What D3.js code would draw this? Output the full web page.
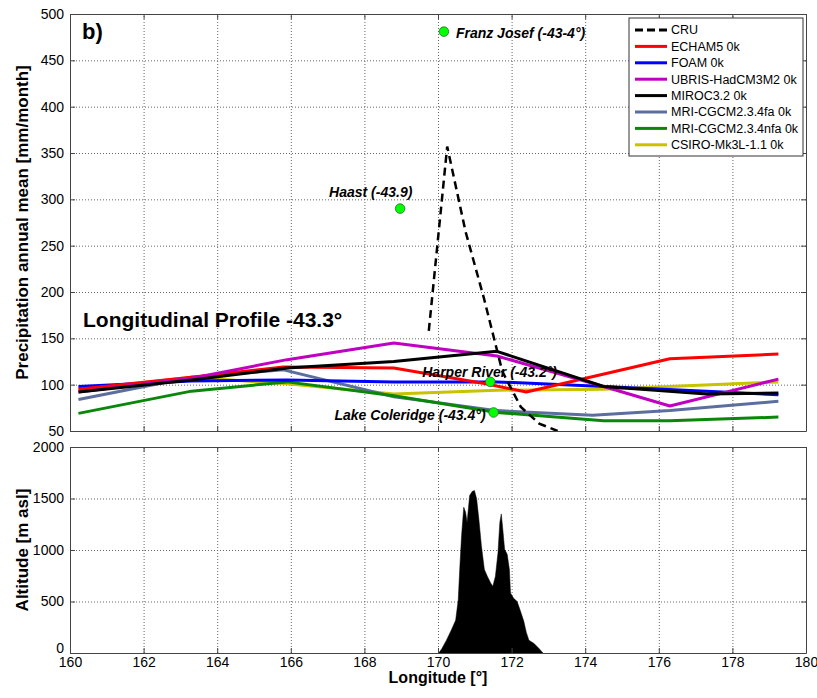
<!DOCTYPE html>
<html>
<head>
<meta charset="utf-8">
<script src="https://cdn.jsdelivr.net/npm/d3@7"></script>
<style>
  html, body { margin: 0; padding: 0; background: #fff; }
  svg { display: block; font-family: "Liberation Sans", Arial, Helvetica, sans-serif; }
</style>
</head>
<body>
<svg id="chart" width="817" height="698"></svg>
<script>
// ---------------- DATA ----------------
const seriesNames = ["CRU", "ECHAM5 0k", "FOAM 0k", "UBRIS-HadCM3M2 0k", "MIROC3.2 0k",
  "MRI-CGCM2.3.4fa 0k", "MRI-CGCM2.3.4nfa 0k", "CSIRO-Mk3L-1.1 0k"];

// [longitude, precipitation mm/month]
const cru = [[169.75, 158], [170.25, 357], [170.75, 265], [171.25, 193], [171.75, 114],
  [172.25, 76], [172.75, 58], [173.25, 50]];
const echam5 = [[160.23, 95], [163.3, 108], [165.8, 119], [168.8, 118], [171.3, 101],
  [172.4, 92], [176.3, 128], [179.25, 133]];
const foam = [[160.23, 98], [163.3, 104], [165.9, 105], [168.8, 103], [171.6, 103],
  [174.5, 98], [177.3, 93], [179.25, 89]];
const ubris = [[160.23, 92], [163.3, 107], [165.9, 127], [168.8, 145], [171.6, 131],
  [174.5, 98], [176.3, 77], [179.25, 106]];
const miroc = [[160.23, 92], [163.3, 105], [165.9, 118], [168.8, 125], [171.6, 136],
  [174.5, 98], [177.3, 90], [179.25, 91]];
const mriFa = [[160.23, 84], [163.3, 108], [165.8, 116], [168.8, 87], [171.6, 72],
  [174.2, 67], [176.3, 72], [179.25, 82]];
const mriNfa = [[160.23, 69], [163.3, 93], [165.9, 103], [168.8, 88], [171.6, 70],
  [174.5, 61], [176.3, 61], [179.25, 65]];
const csiro = [[160.23, 95], [163.3, 108], [165.9, 101], [168.8, 90], [171.6, 94],
  [174.5, 95], [179.25, 103]];

const stationNames = ["Franz Josef (-43-4°)", "Haast (-43.9)", "Harper River (-43.2°)", "Lake Coleridge (-43.4°)"];
const stationLon = [170.16, 168.97, 171.42, 171.51];
const stationVal = [481, 290, 103, 70];

const topoLon = [170.02, 170.10, 170.23, 170.36, 170.48, 170.55, 170.59, 170.64, 170.70, 170.75,
  170.79, 170.86, 170.93, 170.99, 171.05, 171.11, 171.18, 171.26, 171.34, 171.43, 171.49,
  171.56, 171.63, 171.68, 171.72, 171.76, 171.81, 171.88, 171.94, 171.97, 172.05, 172.15,
  172.23, 172.33, 172.40, 172.47, 172.61, 172.75, 172.85];
const topoAlt = [0, 40, 124, 221, 319, 516, 810, 1137, 1415, 1366,
  1268, 1529, 1569, 1578, 1497, 1300, 1039, 810, 745, 680, 647,
  745, 974, 1268, 1350, 1203, 1007, 958, 810, 582, 533, 500,
  418, 310, 200, 124, 92, 42, 0];

const lonTicks = [160, 162, 164, 166, 168, 170, 172, 174, 176, 178, 180];
const precipTicks = [50, 100, 150, 200, 250, 300, 350, 400, 450, 500];
const altTicks = [0, 500, 1000, 1500, 2000];

// ---------------- LAYOUT ----------------
const L = 70, R = 806;
const topP = { t: 14, b: 431 };
const botP = { t: 447, b: 653 };
const FONT = '"Liberation Sans", Arial, Helvetica, sans-serif';

const svg = d3.select("#chart");
svg.append("rect").attr("width", 817).attr("height", 698).attr("fill", "#fff");

const x = d3.scaleLinear().domain([160, 180]).range([L, R]);
const yP = d3.scaleLinear().domain([50, 500]).range([topP.b, topP.t]);
const yA = d3.scaleLinear().domain([0, 2000]).range([botP.b, botP.t]);

function panel(p, y, yTicks) {
  const g = svg.append("g");
  g.append("g").attr("transform", `translate(0,${p.b})`)
    .call(d3.axisBottom(x).tickValues(lonTicks.slice(1, -1)).tickSize(-(p.b - p.t)).tickFormat(""))
    .call(s => s.select(".domain").remove())
    .call(s => s.selectAll("line").attr("stroke", "#666").attr("stroke-dasharray", "1,2"));
  g.append("g").attr("transform", `translate(${L},0)`)
    .call(d3.axisLeft(y).tickValues(yTicks.slice(1, -1)).tickSize(-(R - L)).tickFormat(""))
    .call(s => s.select(".domain").remove())
    .call(s => s.selectAll("line").attr("stroke", "#666").attr("stroke-dasharray", "1,2"));
  return g;
}

function frame(p, y, yTicks, showX) {
  const g = svg.append("g");
  g.append("g").attr("transform", `translate(0,${p.b})`)
    .call(d3.axisBottom(x).tickValues(lonTicks).tickSizeInner(-5).tickSizeOuter(0).tickPadding(4)
      .tickFormat(showX ? d3.format("d") : ""));
  g.append("g").attr("transform", `translate(0,${p.t})`)
    .call(d3.axisTop(x).tickValues(lonTicks).tickSizeInner(-5).tickSizeOuter(0).tickFormat(""));
  const ly = g.append("g").attr("transform", `translate(${L},0)`)
    .call(d3.axisLeft(y).tickValues(yTicks).tickSizeInner(-5).tickSizeOuter(0).tickPadding(6)
      .tickFormat(d3.format("d")));
  g.append("g").attr("transform", `translate(${R},0)`)
    .call(d3.axisRight(y).tickValues(yTicks).tickSizeInner(-5).tickSizeOuter(0).tickFormat(""));
  g.selectAll(".domain").attr("stroke", "#444");
  g.selectAll(".tick line").attr("stroke", "#444");
  g.selectAll("text").attr("font-family", FONT).attr("font-size", 14).attr("fill", "#000");
  // lowest y label sits just above the bottom corner, as in the reference
  if (showX) ly.selectAll(".tick text").filter(d => d === yTicks[0]).attr("dy", "-0.05em");
}

// ---------- top panel ----------
panel(topP, yP, precipTicks);

svg.append("defs").append("clipPath").attr("id", "clipTop")
  .append("rect").attr("x", L).attr("y", topP.t).attr("width", R - L).attr("height", topP.b - topP.t);

const line = d3.line().x(d => x(d[0])).y(d => yP(d[1]));
const modelSeries = [
  { data: echam5, color: "#ff0000" },
  { data: foam, color: "#0000ff" },
  { data: ubris, color: "#c000c0" },
  { data: miroc, color: "#000000" },
  { data: mriFa, color: "#5b6e9e" },
  { data: mriNfa, color: "#0a870a" },
  { data: csiro, color: "#c8c200" }
];
const gl = svg.append("g").attr("clip-path", "url(#clipTop)");
const order = [6, 4, 5, 1, 0, 2, 3];
order.forEach(i => {
  const s = modelSeries[i];
  gl.append("path").attr("d", line(s.data)).attr("fill", "none")
    .attr("stroke", s.color).attr("stroke-width", 3).attr("stroke-linejoin", "round");
});
gl.append("path").attr("d", line(cru)).attr("fill", "none")
  .attr("stroke", "#000").attr("stroke-width", 2.5).attr("stroke-dasharray", "8,5");

// stations
const labelLayout = [
  { dx: 12, dy: 6.5, anchor: "start" },
  { dx: -71, dy: -11.5, anchor: "start" },
  { dx: -68, dy: -5, anchor: "start" },
  { dx: -8, dy: 8, anchor: "end" }
];
stationNames.forEach((n, i) => {
  const cx = x(stationLon[i]), cy = yP(stationVal[i]);
  svg.append("text").attr("x", cx + labelLayout[i].dx).attr("y", cy + labelLayout[i].dy)
    .attr("text-anchor", labelLayout[i].anchor)
    .attr("font-family", FONT).attr("font-size", 14).attr("font-weight", "bold")
    .attr("font-style", "italic").attr("fill", "#000").text(n);
});
stationNames.forEach((n, i) => {
  svg.append("circle").attr("cx", x(stationLon[i])).attr("cy", yP(stationVal[i])).attr("r", 4.8)
    .attr("fill", "#00ff00").attr("stroke", "#2b6b2b").attr("stroke-width", 0.8);
});

frame(topP, yP, precipTicks, false);

svg.append("text").attr("x", 82).attr("y", 39).attr("font-family", FONT)
  .attr("font-size", 22).attr("font-weight", "bold").text("b)");
svg.append("text").attr("x", 83).attr("y", 327).attr("font-family", FONT)
  .attr("font-size", 21).attr("font-weight", "bold").text("Longitudinal Profile -43.3°");

// legend
const lg = svg.append("g");
lg.append("rect").attr("x", 629).attr("y", 18).attr("width", 174).attr("height", 138)
  .attr("fill", "#fff").attr("stroke", "#333").attr("stroke-width", 1);
const legendColors = ["#000000", "#ff0000", "#0000ff", "#c000c0", "#000000", "#5b6e9e", "#0a870a", "#c8c200"];
seriesNames.forEach((n, i) => {
  const yy = 30 + i * 16.4;
  lg.append("line").attr("x1", 635).attr("x2", 667).attr("y1", yy).attr("y2", yy)
    .attr("stroke", legendColors[i]).attr("stroke-width", 3)
    .attr("stroke-dasharray", i === 0 ? "8,4" : null);
  lg.append("text").attr("x", 671).attr("y", yy).attr("dy", "0.35em")
    .attr("font-family", FONT).attr("font-size", 12.5).attr("fill", "#000").text(n);
});

// ---------- bottom panel ----------
panel(botP, yA, altTicks);
const area = d3.area().x((d, i) => x(topoLon[i])).y0(yA(0)).y1((d, i) => yA(topoAlt[i]));
svg.append("path").attr("d", area(topoAlt)).attr("fill", "#000").attr("stroke", "#000").attr("stroke-width", 0.5);
frame(botP, yA, altTicks, true);

// axis titles
svg.append("text").attr("transform", `translate(28,${(topP.t + topP.b) / 2}) rotate(-90)`)
  .attr("text-anchor", "middle").attr("font-family", FONT).attr("font-size", 17)
  .attr("font-weight", "bold").text("Precipitation annual mean [mm/month]");
svg.append("text").attr("transform", `translate(28,${(botP.t + botP.b) / 2}) rotate(-90)`)
  .attr("text-anchor", "middle").attr("font-family", FONT).attr("font-size", 17)
  .attr("font-weight", "bold").text("Altitude [m asl]");
svg.append("text").attr("x", (L + R) / 2).attr("y", 683)
  .attr("text-anchor", "middle").attr("font-family", FONT).attr("font-size", 16)
  .attr("font-weight", "bold").text("Longitude [°]");
</script>
</body>
</html>
